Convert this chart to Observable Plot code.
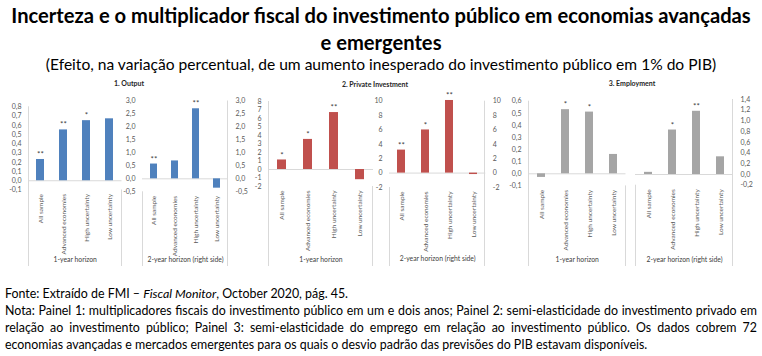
<!DOCTYPE html>
<html><head><meta charset="utf-8">
<script src="https://cdn.jsdelivr.net/npm/d3@7"></script>
<script src="https://cdn.jsdelivr.net/npm/@observablehq/plot@0.6"></script>
<style>
body{margin:0;background:#fff;}
#root{position:relative;width:762px;height:356px;overflow:hidden;font-family:Lato,'Liberation Sans',sans-serif;color:#000;}
</style></head><body><div id="root"></div>
<script>
// ---- data ----
const categories = ["All sample", "Advanced economies", "High uncertainty", "Low uncertainty"];
const groups = ["1-year horizon", "2-year horizon (right side)"];
const panelTitles = ["1. Output", "2. Private Investment", "3. Employment"];

const outputY1 = [0.23, 0.55, 0.65, 0.67];
const outputY2 = [0.57, 0.69, 2.70, -0.36];
const privateY1 = [1.12, 3.54, 6.70, -1.20];
const privateY2 = [3.20, 6.00, 10.10, -0.20];
const employY1 = [-0.03, 0.53, 0.51, 0.16];
const employY2 = [0.04, 0.83, 1.18, 0.33];

const outputStars1 = ["**", "**", "*", ""];
const outputStars2 = ["**", "", "**", ""];
const privateStars1 = ["*", "*", "**", ""];
const privateStars2 = ["**", "*", "**", ""];
const employStars1 = ["", "*", "*", ""];
const employStars2 = ["", "*", "**", ""];

const outputTicks1 = [-0.1, 0, 0.1, 0.2, 0.3, 0.4, 0.5, 0.6, 0.7, 0.8];
const outputTicks2 = [-0.5, 0, 0.5, 1, 1.5, 2, 2.5, 3];
const privateTicks1 = [-2, -1, 0, 1, 2, 3, 4, 5, 6, 7, 8];
const privateTicks2 = [-2, 0, 2, 4, 6, 8, 10];
const employTicks1 = [-0.1, 0, 0.1, 0.2, 0.3, 0.4, 0.5, 0.6];
const employTicks2 = [-0.2, 0, 0.2, 0.4, 0.6, 0.8, 1, 1.2, 1.4];

const titleText = ["Incerteza e o multiplicador fiscal do investimento público em economias avançadas", "e emergentes"];
const subtitleText = "(Efeito, na variação percentual, de um aumento inesperado do investimento público em 1% do PIB)";
const notaLines = [
  "Nota: Painel 1: multiplicadores fiscais do investimento público em um e dois anos; Painel 2: semi-elasticidade do investimento privado em",
  "relação ao investimento público; Painel 3: semi-elasticidade do emprego em relação ao investimento público. Os dados cobrem 72",
  "economias avançadas e mercados emergentes para os quais o desvio padrão das previsões do PIB estavam disponíveis."
];

// ---- styles / layout ----
const FONT = "Lato, 'Liberation Sans', sans-serif";
const colors = ["#4f81bd", "#c0504d", "#a5a5a5"];
const root = document.getElementById("root");

function centered(html, cy, size, weight, target) {
  const d = document.createElement("div");
  d.style.cssText = `position:absolute;white-space:nowrap;font-weight:${weight};line-height:1;left:0;width:762px;text-align:center;`;
  const s = document.createElement("span");
  s.innerHTML = html; s.style.fontSize = size + "px";
  d.appendChild(s); root.appendChild(d);
  if (target) { const w = s.getBoundingClientRect().width; size = size * target / w; s.style.fontSize = size + "px"; }
  d.style.top = (cy - 0.62 * size) + "px";
  return size;
}

const tSize = centered(titleText[0], 18, 18, 700, 740);
centered(titleText[1], 45, tSize, 700);
centered(subtitleText, 66, 14, 400, 671);

// footer
function leftLine(html, cy, size, target, justifyW) {
  const d = document.createElement("div");
  d.style.cssText = "position:absolute;left:5px;white-space:nowrap;line-height:1;color:#000;";
  d.innerHTML = html; d.style.fontSize = size + "px"; root.appendChild(d);
  if (target) { const w = d.getBoundingClientRect().width; size = size * target / w; d.style.fontSize = size + "px"; }
  if (justifyW) {
    const w = d.getBoundingClientRect().width;
    const n = (d.textContent.match(/ /g) || []).length;
    d.style.wordSpacing = ((justifyW - w) / n) + "px";
  }
  d.style.top = (cy - 0.62 * size) + "px";
  return size;
}
const fSize = leftLine(notaLines[2], 347, 12.5, 643);
leftLine("Fonte: Extraído de FMI – <i>Fiscal Monitor</i>, October 2020, pág. 45.", 296, fSize);
leftLine(notaLines[0], 313, fSize, null, 752);
leftLine(notaLines[1], 330, fSize, null, 752);

// panel titles
[[129, 84], [375, 85], [632, 84]].forEach(([cx, cy], i) => {
  const d = document.createElement("div");
  d.style.cssText = "position:absolute;white-space:nowrap;font-weight:700;line-height:1;font-size:7px;color:#262626;";
  d.textContent = panelTitles[i]; root.appendChild(d);
  const w = d.getBoundingClientRect().width;
  d.style.left = (cx - w / 2) + "px"; d.style.top = (cy - 4.3) + "px";
});

// sub-charts
const svgTop = 76, svgH = 196, groupY = 261, lineEnd = 266;
const subs = [
  {vals: outputY1, stars: outputStars1, ticks: outputTicks1, color: 0, left: 27.5, right: 121, top: 106.3, bottom: 189.5, axis: "left", group: 0, dec: true},
  {vals: outputY2, stars: outputStars2, ticks: outputTicks2, color: 0, left: 141.75, right: 227.75, top: 100.5, bottom: 191.3, axis: "both", group: 1, dec: true},
  {vals: privateY1, stars: privateStars1, ticks: privateTicks1, color: 1, left: 268, right: 373, top: 101, bottom: 186, axis: "left", group: 0, dec: false},
  {vals: privateY2, stars: privateStars2, ticks: privateTicks2, color: 1, left: 389, right: 485.3, top: 100.7, bottom: 187, axis: "both", group: 1, dec: false},
  {vals: employY1, stars: employStars1, ticks: employTicks1, color: 2, left: 527.5, right: 625, top: 100.7, bottom: 185.4, axis: "left", group: 0, dec: true},
  {vals: employY2, stars: employStars2, ticks: employTicks2, color: 2, left: 634.75, right: 732.75, top: 99, bottom: 184.7, axis: "right", group: 1, dec: true}
];

function separators(cfg) {
  return (index, scales, values, dims) => {
    const g = d3.create("svg:g").attr("stroke", "#d9d9d9").attr("stroke-width", 1).attr("fill", "none");
    const x0 = Math.round(dims.marginLeft) + 0.5, x1 = Math.round(dims.width - dims.marginRight) - 0.5;
    const top = dims.marginTop, fb = dims.height - dims.marginBottom, end = lineEnd - svgTop;
    const lines = cfg.group === 0 ? [[x0, top], [x1, fb]] : [[x0, fb], [x1, top]];
    for (const [x, y] of lines) g.append("line").attr("x1", x).attr("x2", x).attr("y1", y).attr("y2", end);
    return g.node();
  };
}

const fmtDec = d => d3.format(".1f")(d).replace("−", "-").replace(".", ",");
const fmtInt = d => String(d);

subs.forEach(cfg => {
  const mL = cfg.axis === "right" ? 4 : 32;
  const mR = cfg.axis === "left" ? 4 : 28;
  const width = (cfg.right - cfg.left) + mL + mR;
  const data = categories.map((c, i) => ({category: c, value: cfg.vals[i], star: cfg.stars[i]}));
  const plot = Plot.plot({
    width, height: svgH,
    marginLeft: mL, marginRight: mR,
    marginTop: cfg.top - svgTop, marginBottom: svgTop + svgH - cfg.bottom,
    style: {background: "transparent", overflow: "visible", fontFamily: FONT, fontSize: "7px", color: "#595959",
            position: "absolute", left: (cfg.left - mL) + "px", top: svgTop + "px", maxWidth: "none"},
    x: {type: "band", domain: categories, paddingInner: 0.66, paddingOuter: 0.33, tickRotate: -90,
        tickSize: 0, tickPadding: 4, label: null, axis: "bottom"},
    y: {domain: [cfg.ticks[0], cfg.ticks[cfg.ticks.length - 1]], ticks: cfg.ticks,
        tickFormat: cfg.dec ? fmtDec : fmtInt, tickSize: 0, tickPadding: 7, label: null, axis: cfg.axis},
    marks: [
      Plot.ruleY([0], {stroke: "#d9d9d9"}),
      Plot.barY(data, {x: "category", y: "value", fill: colors[cfg.color]}),
      Plot.text(data.filter(d => d.star), {x: "category", y: "value", text: "star", dy: -5, fontSize: 8, fill: "#404040"}),
      Plot.text([groups[cfg.group]], {frameAnchor: "bottom", text: d => d, dy: groupY - cfg.bottom, fontSize: 6.8, fill: "#404040"}),
      separators(cfg)
    ]
  });
  plot.querySelectorAll('g[aria-label^="x-axis"]').forEach(g => {
    g.setAttribute("font-size", "6.5");
    g.querySelectorAll("text").forEach(t => t.setAttribute("font-size", "6.5"));
  });
  root.appendChild(plot);
});
</script></body></html>
